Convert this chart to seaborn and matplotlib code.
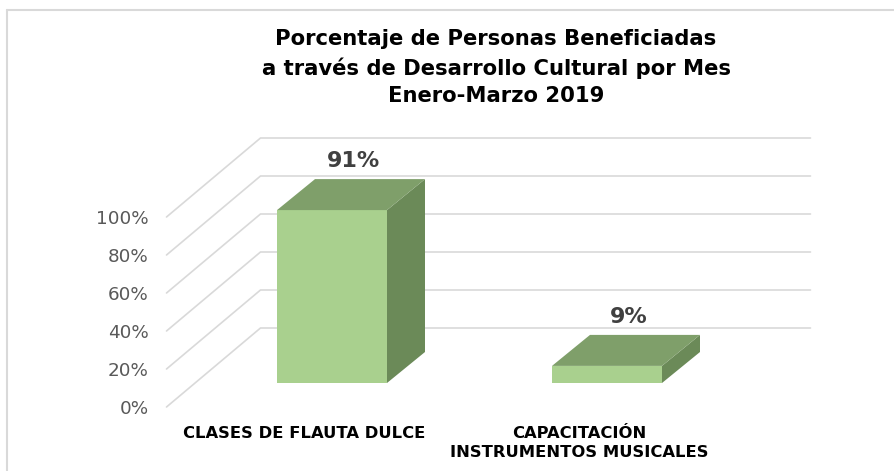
import numpy as np
import matplotlib
matplotlib.use("Agg")
import matplotlib.pyplot as plt
from matplotlib.patches import Polygon
from matplotlib.lines import Line2D
from matplotlib.transforms import IdentityTransform
from matplotlib.ticker import PercentFormatter
import seaborn as sns

# ---- data ----
categories = ["CLASES DE FLAUTA DULCE", "CAPACITACIÓN\nINSTRUMENTOS MUSICALES"]
values = [91, 9]
y_ticks = [0, 20, 40, 60, 80, 100]
title_lines = ["Porcentaje de Personas Beneficiadas",
               "a través de Desarrollo Cultural por Mes",
               "Enero-Marzo 2019"]

# ---- style ----
sns.set_theme(style="white")
plt.rcParams['font.family'] = ['DejaVu Sans']

W, H, DPI = 894, 471, 100
front_col = "#A9D08E"
top_col = "#7F9F6A"
side_col = "#6B8A58"
grid_col = "#D9D9D9"

fig = plt.figure(figsize=(W / DPI, H / DPI), dpi=DPI)

# front plane axes (ticks / labels)
fx0, fx1 = 166.5, 716.5
fy0, fy1 = 407, 217
ax_f = fig.add_axes([fx0 / W, (H - fy0) / H, (fx1 - fx0) / W, (fy0 - fy1) / H])
# bar plane axes, shifted into depth
bdx, bdy = 28, 24
ax_b = fig.add_axes([(fx0 + bdx) / W, (H - fy0 + bdy) / H, (fx1 - fx0) / W, (fy0 - fy1) / H])

for a in (ax_f, ax_b):
    a.set_xlim(-0.5, 1.5)
    a.set_ylim(0, 100)
    a.patch.set_alpha(0)
    for s in a.spines.values():
        s.set_visible(False)

# bars (front faces) via seaborn
sns.barplot(x=categories, y=values, ax=ax_b, color=front_col, width=0.4,
            saturation=1, edgecolor="none", zorder=3)
ax_b.set_xticks([])
ax_b.set_yticks([])
ax_b.set_xlabel("")
ax_b.set_ylabel("")

# ticks on front plane
ax_f.set_xticks(range(len(categories)))
ax_f.set_xticklabels(categories, fontsize=11.8, fontweight="bold", color="black",
                     linespacing=1.32)
ax_f.set_yticks(y_ticks)
ax_f.yaxis.set_major_formatter(PercentFormatter(decimals=0))
ax_f.tick_params(axis="y", labelsize=13.2, labelcolor="#595959", pad=13, length=0)
ax_f.tick_params(axis="x", pad=13.5, length=0)

fig.canvas.draw()

# floor/wall depth
ddx, ddy = 94, 79
ident = IdentityTransform()
for v in y_ticks:
    p0 = ax_f.transData.transform((-0.5, v))
    p1 = p0 + np.array([ddx, ddy])
    p2 = ax_f.transData.transform((1.5, v)) + np.array([ddx, ddy])
    fig.add_artist(Line2D([p0[0], p1[0], p2[0]], [p0[1], p1[1], p2[1]],
                          transform=ident, color=grid_col, lw=1.2, zorder=-1))

# 3D top and side faces
bd = np.array([38, 31])
for patch, v in zip(ax_b.patches, values):
    x0 = patch.get_x()
    x1 = x0 + patch.get_width()
    h = patch.get_height()
    tl = ax_b.transData.transform((x0, h))
    tr = ax_b.transData.transform((x1, h))
    br = ax_b.transData.transform((x1, 0))
    top = Polygon([tl, tr, tr + bd, tl + bd], closed=True, transform=ident,
                  facecolor=top_col, edgecolor="none", zorder=4)
    side = Polygon([tr, br, br + bd, tr + bd], closed=True, transform=ident,
                   facecolor=side_col, edgecolor="none", zorder=4)
    fig.add_artist(side)
    fig.add_artist(top)
    ax_b.annotate(f"{v}%", xy=(x0 + patch.get_width() / 2, h), xytext=(22, 49),
                  textcoords="offset pixels", ha="center", va="center",
                  fontsize=16, fontweight="bold", color="#404040", zorder=5)

# title
fig.text(496 / W, 1 - 67.5 / H, "\n".join(title_lines), ha="center", va="center",
         fontsize=15.2, fontweight="bold", color="black", linespacing=1.45)

# chart frame lines (top and left)
fig.add_artist(Line2D([7 / W, 1], [1 - 10 / H, 1 - 10 / H], transform=fig.transFigure,
                      color=grid_col, lw=1.5))
fig.add_artist(Line2D([7 / W, 7 / W], [0, 1 - 10 / H], transform=fig.transFigure,
                      color=grid_col, lw=1.5))

fig.savefig("out.png", dpi=DPI, facecolor="white")
